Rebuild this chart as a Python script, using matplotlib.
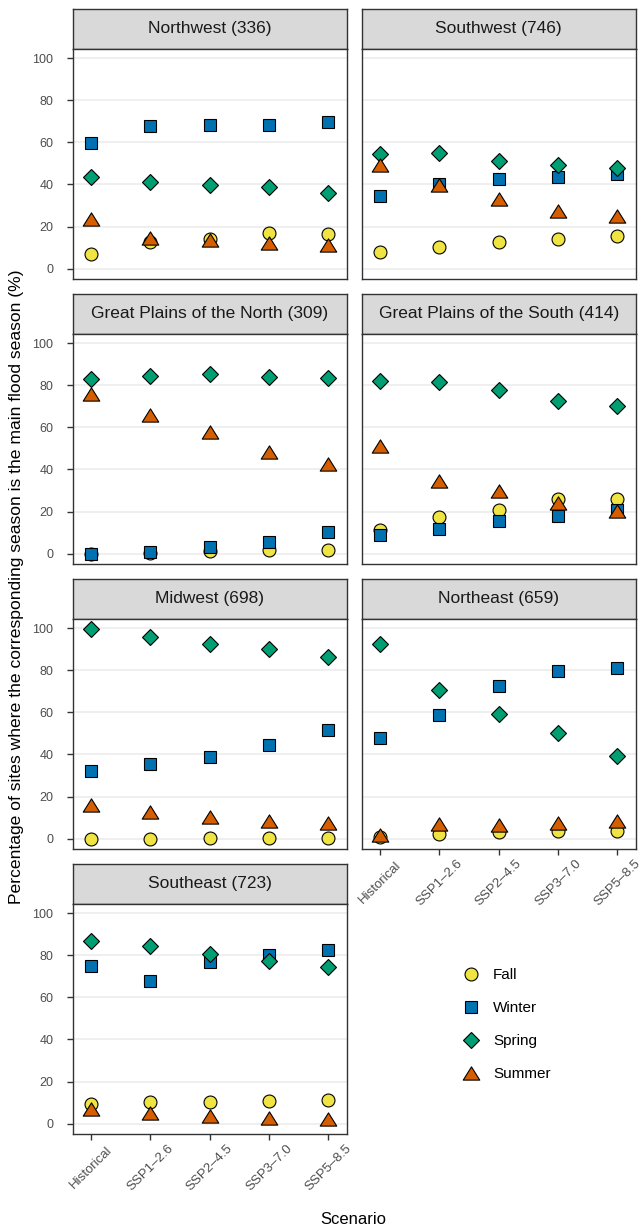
import numpy as np
import matplotlib
matplotlib.use('Agg')
import matplotlib.pyplot as plt
from matplotlib.lines import Line2D
from matplotlib.path import Path

plt.rcParams['font.family'] = ['Liberation Sans', 'DejaVu Sans']

scenarios = ['Historical', 'SSP1–2.6', 'SSP2–4.5', 'SSP3–7.0', 'SSP5–8.5']
regions = ['Northwest (336)', 'Southwest (746)',
           'Great Plains of the North (309)', 'Great Plains of the South (414)',
           'Midwest (698)', 'Northeast (659)', 'Southeast (723)']

# % of sites per season, one row per region, one column per scenario
fall = [
    [6.8, 12.5, 14.1, 16.8, 16.5],
    [7.8, 10.2, 12.7, 14.1, 15.7],
    [0.0, 0.5, 1.1, 1.9, 1.5],
    [11.4, 17.2, 20.7, 25.9, 25.9],
    [0.0, 0.0, 0.1, 0.4, 0.4],
    [0.8, 2.2, 3.0, 3.5, 3.8],
    [9.3, 10.3, 10.4, 10.9, 11.2],
]
winter = [
    [59.8, 67.9, 68.3, 68.4, 69.7],
    [34.4, 40.3, 42.5, 43.5, 44.8],
    [0.0, 0.6, 3.2, 5.4, 10.3],
    [8.9, 11.9, 15.7, 18.0, 20.9],
    [32.1, 35.6, 38.7, 44.6, 51.6],
    [47.9, 58.6, 72.5, 79.5, 81.0],
    [74.7, 67.9, 76.7, 80.2, 82.6],
]
spring = [
    [43.5, 41.3, 39.7, 38.7, 35.7],
    [54.6, 55.1, 51.0, 49.4, 47.6],
    [82.8, 84.5, 85.4, 83.9, 83.2],
    [81.8, 81.3, 77.5, 72.6, 69.9],
    [99.5, 95.9, 92.5, 90.0, 86.2],
    [92.4, 70.5, 59.4, 50.0, 39.4],
    [86.9, 84.5, 80.7, 77.1, 74.2],
]
summer = [
    [23.7, 14.6, 13.8, 12.4, 11.3],
    [49.0, 39.8, 32.9, 27.3, 24.9],
    [75.8, 65.7, 57.9, 48.1, 42.7],
    [51.0, 34.5, 29.6, 23.9, 20.3],
    [15.9, 12.7, 10.3, 8.3, 7.6],
    [1.9, 7.0, 6.7, 7.5, 8.6],
    [7.1, 5.2, 3.5, 2.5, 2.2],
]

tri = Path([(0, 0.8), (-1, -0.8), (1, -0.8), (0, 0.8)],
           [Path.MOVETO, Path.LINETO, Path.LINETO, Path.CLOSEPOLY])
seasons = [
    ('Fall', fall, 'o', 9.3, '#F0E442'),
    ('Winter', winter, 's', 8.1, '#0072B2'),
    ('Spring', spring, 'D', 7.7, '#009E73'),
    ('Summer', summer, tri, 11.9, '#D55E00'),
]

W, H = 641, 1231
fig = plt.figure(figsize=(W / 100, H / 100), dpi=100)

allv = np.concatenate([np.ravel(s[1]) for s in seasons])
lo, hi = allv.min(), allv.max()
pad = 0.05 * (hi - lo)
ylim = (lo - pad, hi + pad)

col_x = [72.7, 361.7]
pw, ph, sh = 274, 230.5, 39.3
grid = [(0, 0), (0, 1), (1, 0), (1, 1), (2, 0), (2, 1), (3, 0)]
xlabel_panels = [5, 6]
dark = '#333333'

x = np.arange(1, len(scenarios) + 1)
for i, (r, c) in enumerate(grid):
    top = 9.3 + 285 * r
    left = col_x[c]
    sax = fig.add_axes([left / W, 1 - (top + sh) / H, pw / W, sh / H])
    sax.set_facecolor('#D9D9D9')
    sax.set_xticks([])
    sax.set_yticks([])
    for sp in sax.spines.values():
        sp.set_color(dark)
        sp.set_linewidth(1.0)
    sax.text(0.5, 0.5, regions[i], ha='center', va='center', fontsize=12.5,
             color='#1A1A1A', transform=sax.transAxes)

    ax = fig.add_axes([left / W, 1 - (top + sh + ph) / H, pw / W, ph / H])
    ax.set_xlim(0.69, 5.31)
    ax.set_ylim(*ylim)
    ax.set_yticks([0, 20, 40, 60, 80, 100])
    ax.yaxis.grid(True, color='#EBEBEB', linewidth=1.1)
    ax.set_axisbelow(True)
    for sp in ax.spines.values():
        sp.set_color(dark)
        sp.set_linewidth(1.0)
        sp.set_zorder(10)

    for k, (name, vals, mk, ms, colr) in enumerate(seasons):
        ax.plot(x, vals[i], linestyle='none', marker=mk, markersize=ms,
                markerfacecolor=colr, markeredgecolor='black',
                markeredgewidth=0.8, zorder=3 + k, clip_on=False)

    ax.set_xticks(x)
    if c == 0:
        ax.tick_params(axis='y', length=4.3, width=1.0, color=dark,
                       labelsize=9, labelcolor='#4D4D4D', pad=9.5)
    else:
        ax.tick_params(axis='y', left=False, labelleft=False)
    if i in xlabel_panels:
        ax.tick_params(axis='x', length=4.3, width=1.0, color=dark, pad=20)
        ax.set_xticklabels(scenarios, rotation=45, ha='center', va='center',
                           rotation_mode='anchor', fontsize=9.5, color='#4D4D4D')
    else:
        ax.tick_params(axis='x', bottom=False, labelbottom=False)

fig.text(17 / W, 1 - 587 / H,
         'Percentage of sites where the corresponding season is the main flood season (%)',
         rotation=90, ha='center', va='center', fontsize=12.6)
fig.text(353 / W, 1 - 1219 / H, 'Scenario', ha='center', va='center', fontsize=12)

handles = [Line2D([], [], linestyle='none', marker=mk, markersize=ms,
                  markerfacecolor=colr, markeredgecolor='black', markeredgewidth=0.8)
           for name, vals, mk, ms, colr in seasons]
fig.legend(handles, [s[0] for s in seasons], loc='upper left',
           bbox_to_anchor=(462 / W, 1 - 968 / H), frameon=False, fontsize=11,
           labelspacing=1.25, handlelength=1.2, handletextpad=0.84,
           borderpad=0, borderaxespad=0)

fig.savefig('out.png', dpi=100)
